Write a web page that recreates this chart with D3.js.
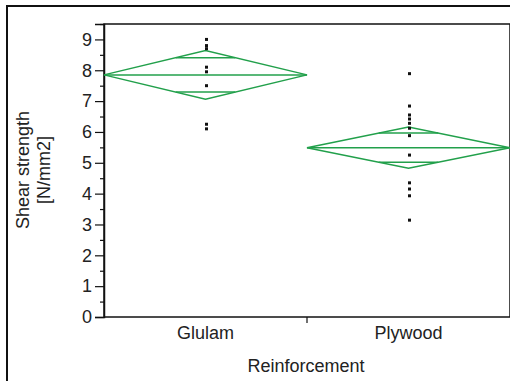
<!DOCTYPE html>
<html>
<head>
<meta charset="utf-8">
<script src="https://cdn.jsdelivr.net/npm/d3@7"></script>
<style>
    body { margin: 0; background: #fff; }
    svg text { font-family: "Liberation Sans", Arial, sans-serif; fill: #222; }
</style>
</head>
<body>
<svg id="chart" width="510" height="381"></svg>
<script>
// Groups on the x axis.
var categories = ["Glulam", "Plywood"];
var glulamValues = [9.0, 8.8, 8.7, 8.1, 7.95, 7.5, 6.25, 6.1];
var plywoodValues = [7.89, 6.84, 6.55, 6.42, 6.28, 6.12, 5.88, 5.25, 4.35, 4.15, 3.93, 3.14];
// Group means and half widths of the 95% interval (diamond tips).
var groupMeans = [7.85, 5.49];
var groupHalfCI = [0.79, 0.67];
// Axis ticks.
var yTicks = [0, 1, 2, 3, 4, 5, 6, 7, 8, 9];
var yMinorTicks = [0.5, 1.5, 2.5, 3.5, 4.5, 5.5, 6.5, 7.5, 8.5, 9.5];

var svg = d3.select("#chart");
// "top" is taken by window.top, so use a margin object.
var plot = { left: 104, right: 510, top: 24, bottom: 317 };
var green = "#22a04b";

var x = d3.scaleBand()
    .domain(categories)
    .range([plot.left, plot.right]);
var y = d3.scaleLinear()
    .domain([0, 9.5])
    .range([plot.bottom, plot.top]);

// Outer frame, runs off the right and bottom edge.
svg.append("rect")
    .attr("x", 7)
    .attr("y", 6)
    .attr("width", 540)
    .attr("height", 400)
    .attr("fill", "none")
    .attr("stroke", "#111")
    .attr("stroke-width", 2);

// Plot frame.
svg.append("rect")
    .attr("x", plot.left)
    .attr("y", plot.top)
    .attr("width", plot.right - plot.left)
    .attr("height", plot.bottom - plot.top)
    .attr("fill", "none")
    .attr("stroke", "#111")
    .attr("stroke-width", 1.5);

// Y axis, major and minor ticks.
var yAxis = svg.append("g")
    .attr("transform", "translate(" + plot.left + ",0)")
    .call(d3.axisLeft(y).tickValues(yTicks).tickSize(9).tickPadding(3).tickFormat(d3.format("d")));
svg.append("g")
    .attr("transform", "translate(" + plot.left + ",0)")
    .call(d3.axisLeft(y).tickValues(yMinorTicks).tickSize(4).tickFormat(""))
    .select(".domain").remove();
svg.selectAll(".tick line").attr("stroke", "#111").attr("stroke-width", 1.2);
yAxis.select(".domain").attr("stroke", "#111").attr("stroke-width", 1.5);
yAxis.selectAll("text")
    .attr("font-size", 18)
    .attr("fill", "#222")
    .style("font-family", "'Liberation Sans', Arial, sans-serif");

// X axis: a single divider tick between the groups, labels at band centres.
svg.append("line")
    .attr("x1", x("Plywood"))
    .attr("x2", x("Plywood"))
    .attr("y1", plot.bottom)
    .attr("y2", plot.bottom + 6)
    .attr("stroke", "#111")
    .attr("stroke-width", 1.2);
svg.selectAll(".x-label")
    .data(categories)
    .enter()
    .append("text")
    .attr("class", "x-label")
    .attr("x", function (d) { return x(d) + x.bandwidth() / 2; })
    .attr("y", 339)
    .attr("text-anchor", "middle")
    .attr("font-size", 18)
    .text(function (d) { return d; });

// Axis titles.
svg.append("text")
    .attr("x", 306)
    .attr("y", 372)
    .attr("text-anchor", "middle")
    .attr("font-size", 18)
    .text("Reinforcement");
var yTitle = svg.append("text")
    .attr("transform", "translate(29,170) rotate(-90)")
    .attr("text-anchor", "middle")
    .attr("font-size", 18);
yTitle.append("tspan").attr("x", 0).attr("dy", 0).text("Shear strength");
yTitle.append("tspan").attr("x", 0).attr("dy", 21).text("[N/mm2]");

// Means diamonds with overlap marks.
var diamonds = categories.map(function (c, i) {
    return {
        category: c,
        mean: groupMeans[i],
        half: groupHalfCI[i]
    };
});
var diamondGroup = svg.append("g")
    .attr("fill", "none")
    .attr("stroke", green)
    .attr("stroke-width", 1.5);
diamonds.forEach(function (d) {
    var x0 = x(d.category);
    var x1 = x0 + x.bandwidth();
    var xc = x0 + x.bandwidth() / 2;
    diamondGroup.append("path")
        .attr("d", "M" + x0 + "," + y(d.mean) +
            "L" + xc + "," + y(d.mean + d.half) +
            "L" + x1 + "," + y(d.mean) +
            "L" + xc + "," + y(d.mean - d.half) + "Z");
    diamondGroup.append("line")
        .attr("x1", x0).attr("x2", x1)
        .attr("y1", y(d.mean)).attr("y2", y(d.mean));
    // Overlap marks at mean +/- half / sqrt(2), cut by the diamond edges.
    var off = d.half / Math.SQRT2;
    var hw = (x.bandwidth() / 2) * (1 - 1 / Math.SQRT2);
    [d.mean + off, d.mean - off].forEach(function (v) {
        diamondGroup.append("line")
            .attr("x1", xc - hw).attr("x2", xc + hw)
            .attr("y1", y(v)).attr("y2", y(v));
    });
});

// Observations.
var points = [];
glulamValues.forEach(function (v) { points.push({ category: "Glulam", value: v }); });
plywoodValues.forEach(function (v) { points.push({ category: "Plywood", value: v }); });
svg.append("g")
    .selectAll("rect")
    .data(points)
    .enter()
    .append("rect")
    .attr("x", function (d) { return x(d.category) + x.bandwidth() / 2 - 0.5; })
    .attr("y", function (d) { return y(d.value) - 1.5; })
    .attr("width", 3)
    .attr("height", 3)
    .attr("fill", "#111");
</script>
</body>
</html>
